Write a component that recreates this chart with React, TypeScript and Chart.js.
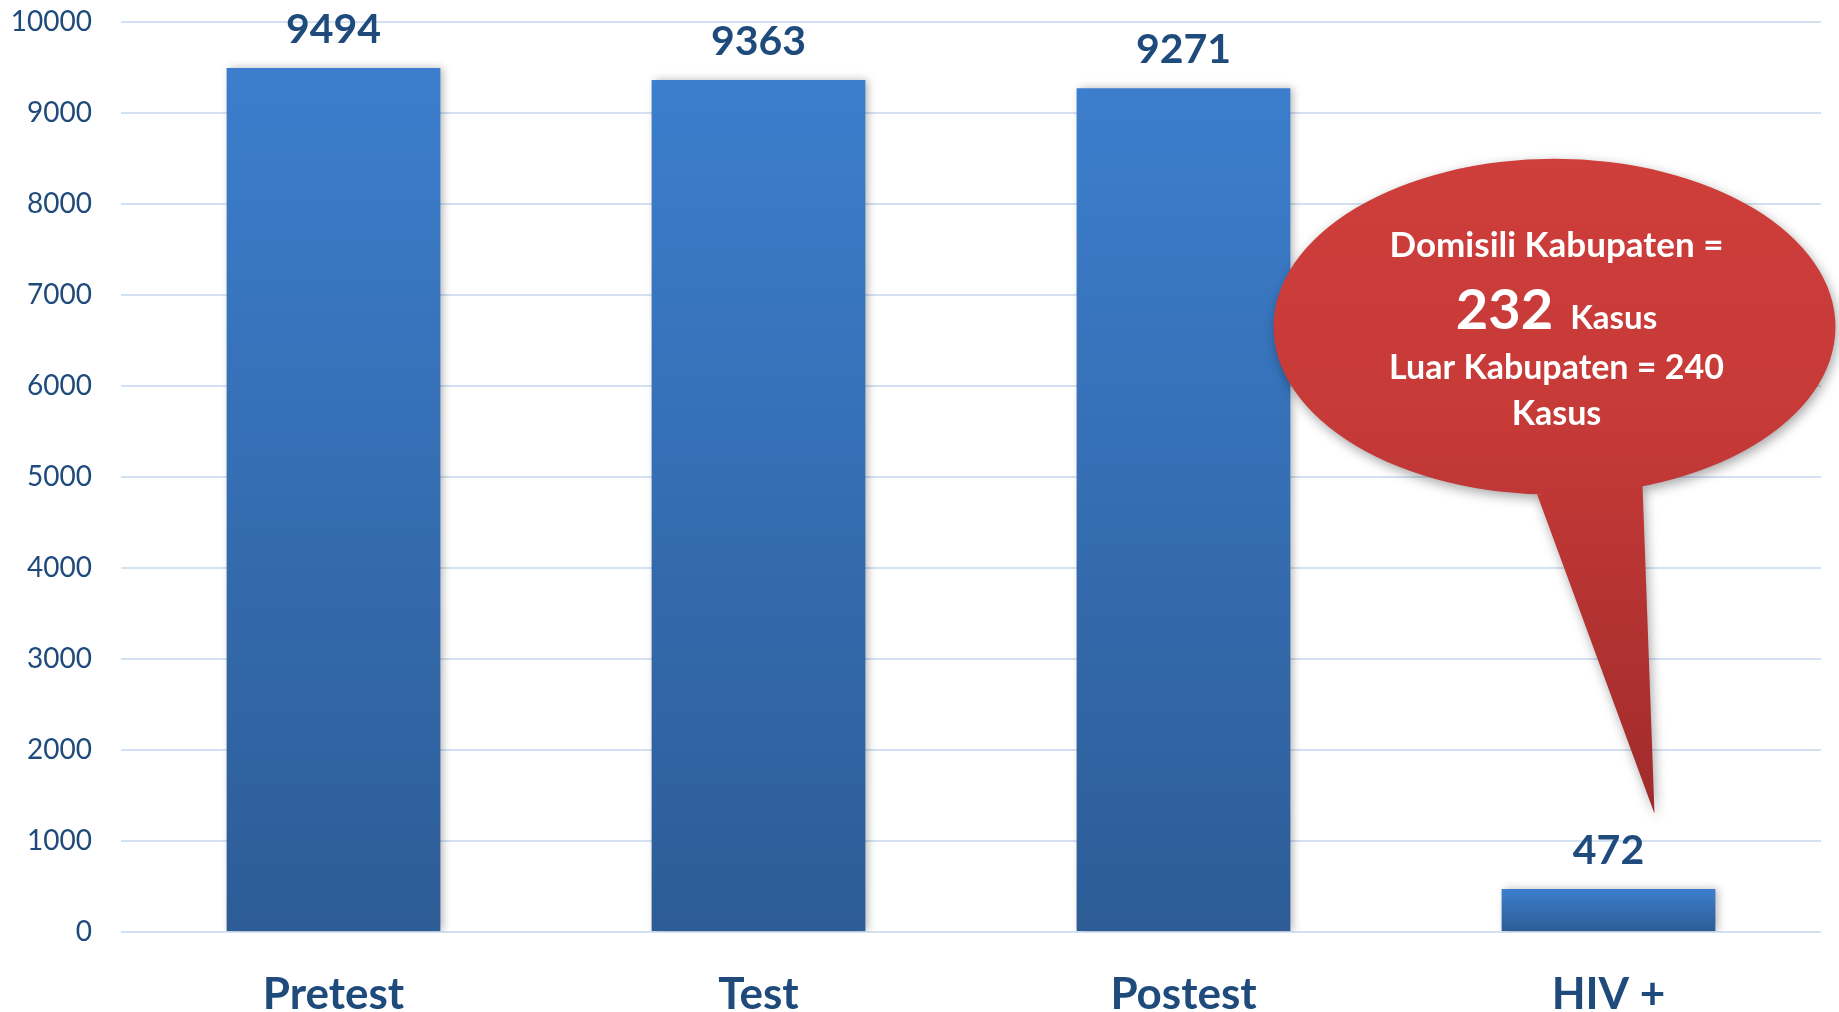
import React, { useEffect, useRef } from "react";
import { Chart, registerables } from "chart.js";

Chart.register(...registerables);

const categories = ["Pretest", "Test", "Postest", "HIV +"];
const values = [9494, 9363, 9271, 472];
const yTicks = [0, 1000, 2000, 3000, 4000, 5000, 6000, 7000, 8000, 9000, 10000];
const calloutLines = ["Domisili Kabupaten =", "232", "Kasus", "Luar Kabupaten = 240", "Kasus"];

const TEXT_BLUE = "#1F4A7C";
const FONT = "Lato, 'Open Sans', sans-serif";

export default function App() {
  const ref = useRef<HTMLCanvasElement | null>(null);

  useEffect(() => {
    const canvas = ref.current;
    if (!canvas) return;

    const shadowPlugin = {
      id: "barShadow",
      beforeDatasetsDraw(chart: any) {
        const ctx = chart.ctx;
        ctx.save();
        ctx.shadowColor = "rgba(0,0,0,0.28)";
        ctx.shadowBlur = 8;
        ctx.shadowOffsetX = 3;
        ctx.shadowOffsetY = 0;
      },
      afterDatasetsDraw(chart: any) {
        const ctx = chart.ctx;
        ctx.restore();
        const meta = chart.getDatasetMeta(0);
        ctx.save();
        ctx.fillStyle = TEXT_BLUE;
        ctx.font = `bold 41px ${FONT}`;
        ctx.textAlign = "center";
        ctx.textBaseline = "alphabetic";
        meta.data.forEach((el: any, i: number) => {
          ctx.fillText(String(values[i]), el.x, el.y - 25);
        });
        ctx.restore();
      },
    };

    const calloutPlugin = {
      id: "callout",
      afterDraw(chart: any) {
        const ctx = chart.ctx;
        const xs = chart.scales.x;
        const ys = chart.scales.y;
        const x3 = xs.getPixelForValue(3);
        const cx = x3 - 54;
        const cy = ys.getPixelForValue(6650);
        const rx = 281;
        const ry = 168;
        const tipX = x3 + 46;
        const tipY = ys.getPixelForValue(1300);
        const bl = { x: cx - 18, y: cy + 166 };
        const br = { x: cx + 88, y: cy + 158 };

        ctx.save();
        const g = ctx.createLinearGradient(0, cy - ry, 0, tipY);
        g.addColorStop(0, "#CE3E3B");
        g.addColorStop(0.4, "#C63A38");
        g.addColorStop(1, "#A02B2B");
        ctx.beginPath();
        ctx.ellipse(cx, cy, rx, ry, 0, 0, Math.PI * 2, false);
        ctx.moveTo(bl.x, bl.y);
        ctx.lineTo(br.x, br.y);
        ctx.lineTo(tipX, tipY);
        ctx.closePath();
        ctx.shadowColor = "rgba(0,0,0,0.35)";
        ctx.shadowBlur = 12;
        ctx.shadowOffsetX = 2;
        ctx.shadowOffsetY = 4;
        ctx.fillStyle = g;
        ctx.fill("nonzero");
        ctx.restore();

        ctx.save();
        ctx.fillStyle = "#FFFFFF";
        ctx.textAlign = "center";
        ctx.textBaseline = "alphabetic";
        const tx = cx + 2;
        ctx.font = `bold 35px ${FONT}`;
        ctx.fillText(calloutLines[0], tx, cy - 70);

        ctx.font = `bold 56px ${FONT}`;
        const w1 = ctx.measureText(calloutLines[1]).width;
        ctx.font = `bold 33px ${FONT}`;
        const w2 = ctx.measureText(calloutLines[2]).width;
        const gap = 17;
        const total = w1 + gap + w2;
        const left = tx - total / 2;
        ctx.textAlign = "left";
        ctx.font = `bold 56px ${FONT}`;
        ctx.fillText(calloutLines[1], left, cy + 2);
        ctx.font = `bold 33px ${FONT}`;
        ctx.fillText(calloutLines[2], left + w1 + gap, cy + 2);

        ctx.textAlign = "center";
        ctx.font = `bold 34px ${FONT}`;
        ctx.fillText(calloutLines[3], tx, cy + 52);
        ctx.fillText(calloutLines[4], tx, cy + 98);
        ctx.restore();
      },
    };

    const chart = new Chart(canvas, {
      type: "bar",
      data: {
        labels: categories,
        datasets: [
          {
            data: values,
            backgroundColor: (c: any) => {
              const ch = c.chart;
              if (!ch.chartArea || !ch.scales.y) return "#3A7AC6";
              const v = c.raw as number;
              const ys = ch.scales.y;
              const top = ys.getPixelForValue(v);
              const bottom = ys.getPixelForValue(0);
              const g = ch.ctx.createLinearGradient(0, top, 0, bottom);
              g.addColorStop(0, "#3C7ECD");
              g.addColorStop(1, "#2D5C96");
              return g;
            },
            borderWidth: 0,
            barPercentage: 0.503,
            categoryPercentage: 1,
          },
        ],
      },
      options: {
        animation: false,
        responsive: false,
        maintainAspectRatio: false,
        devicePixelRatio: 1,
        layout: { padding: { top: 22, left: 0, right: 18, bottom: 0 } },
        plugins: {
          legend: { display: false },
          tooltip: { enabled: false },
        },
        scales: {
          x: {
            grid: { display: false, drawTicks: false },
            border: { display: false },
            ticks: {
              color: TEXT_BLUE,
              font: { family: FONT, size: 44, weight: "bold" },
              padding: 36,
            },
            afterFit(scale: any) {
              scale.height = 80;
              scale.paddingLeft = 0;
              scale.paddingRight = 0;
            },
          },
          y: {
            min: 0,
            max: 10000,
            afterBuildTicks(scale: any) {
              scale.ticks = yTicks.map((v) => ({ value: v }));
            },
            grid: { color: "#D3E1F2", lineWidth: 2, drawTicks: false },
            border: { display: false },
            ticks: {
              color: TEXT_BLUE,
              font: { family: FONT, size: 28 },
              padding: 29,
              callback: (v: any) => String(v),
            },
            afterFit(scale: any) {
              scale.width = 121;
              scale.paddingTop = 0;
              scale.paddingBottom = 0;
            },
          },
        },
      },
      plugins: [shadowPlugin, calloutPlugin],
    } as any);

    return () => chart.destroy();
  }, []);

  return (
    <div style={{ position: "absolute", left: 0, top: 0, width: 1839, height: 1012, background: "#fff" }}>
      <canvas ref={ref} width={1839} height={1012} style={{ display: "block", width: 1839, height: 1012 }} />
    </div>
  );
}
